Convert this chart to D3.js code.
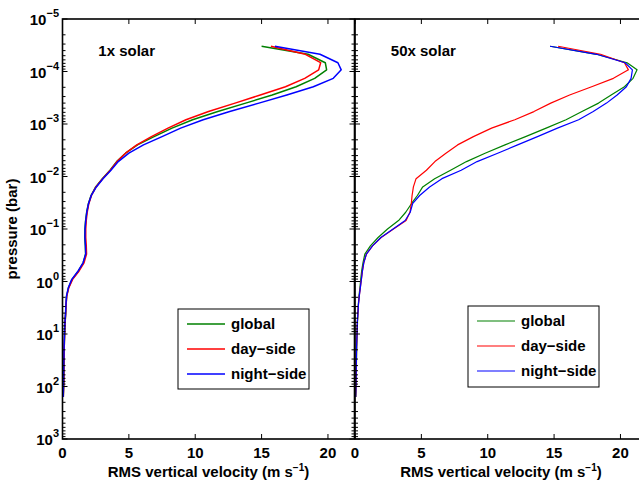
<!DOCTYPE html>
<html>
<head>
<meta charset="utf-8">
<script src="https://cdn.jsdelivr.net/npm/d3@7"></script>
<style>
  html, body { margin: 0; padding: 0; background: #fff; }
  svg { display: block; font-family: "Liberation Sans", Arial, Helvetica, sans-serif; font-weight: bold; }
</style>
</head>
<body>
<svg id="chart" width="639" height="484"></svg>
<script>
// Model pressure levels (bar), top of atmosphere downward
const pressure = [3.3e-5, 4.7e-5, 6.8e-5, 9.3e-5, 1.35e-4, 1.95e-4, 2.8e-4, 4.0e-4, 5.8e-4, 8.3e-4,
  1.2e-3, 1.74e-3, 2.5e-3, 3.6e-3, 5.2e-3, 7.6e-3, 0.011, 0.0158, 0.023, 0.033,
  0.048, 0.069, 0.1, 0.145, 0.21, 0.30, 0.44, 0.63, 0.91, 1.32,
  1.9, 2.75, 4.0, 5.75, 8.3, 12, 17.4, 25, 36, 52,
  76, 110, 158];

// RMS vertical velocity (m/s), 1x solar metallicity
const solar1Global = [15.0, 18.5, 19.8, 19.9, 19.0, 17.6, 15.8, 13.8, 11.7, 9.8,
  8.25, 6.9, 5.65, 4.75, 4.08, 3.58, 3.0, 2.5, 2.15, 1.95,
  1.82, 1.74, 1.69, 1.68, 1.72, 1.74, 1.56, 1.2, 0.72, 0.45,
  0.31, 0.27, 0.24, 0.2, 0.17, 0.15, 0.13, 0.12, 0.11, 0.1,
  0.1, 0.08, 0.06];
const solar1Day = [15.7, 18.3, 19.45, 19.3, 18.25, 16.8, 14.9, 13.0, 11.0, 9.3,
  7.95, 6.7, 5.6, 4.75, 4.1, 3.6, 3.02, 2.52, 2.18, 1.98,
  1.86, 1.79, 1.75, 1.75, 1.79, 1.81, 1.62, 1.25, 0.76, 0.47,
  0.32, 0.27, 0.24, 0.2, 0.17, 0.15, 0.13, 0.12, 0.11, 0.1,
  0.1, 0.08, 0.06];
const solar1Night = [16.0, 19.4, 20.75, 21.0, 20.4, 18.9, 16.9, 14.8, 12.6, 10.6,
  8.9, 7.5, 6.1, 5.0, 4.2, 3.65, 3.05, 2.55, 2.17, 1.96,
  1.83, 1.75, 1.7, 1.69, 1.73, 1.75, 1.55, 1.18, 0.7, 0.44,
  0.3, 0.26, 0.23, 0.19, 0.16, 0.14, 0.12, 0.11, 0.1, 0.09,
  0.08, 0.07, 0.05];

// RMS vertical velocity (m/s), 50x solar metallicity
const solar50Global = [14.7, 18.2, 20.5, 21.25, 20.95, 20.3, 19.3, 18.35, 17.1, 15.9,
  14.4, 12.85, 11.3, 9.8, 8.4, 7.2, 6.0, 5.1, 4.7, 4.25,
  3.82, 3.28, 2.45, 1.74, 1.16, 0.74, 0.6, 0.5, 0.43, 0.37,
  0.3, 0.25, 0.22, 0.19, 0.17, 0.15, 0.13, 0.12, 0.11, 0.1,
  0.09, 0.08, 0.06];
const solar50Day = [15.3, 18.5, 20.3, 20.6, 19.47, 17.83, 16.17, 14.75, 13.48, 12.04,
  10.29, 8.92, 7.73, 6.85, 6.02, 5.38, 4.6, 4.4, 4.3, 4.24,
  4.14, 3.85, 2.9, 1.97, 1.32, 0.86, 0.66, 0.56, 0.48, 0.4,
  0.32, 0.26, 0.22, 0.18, 0.16, 0.14, 0.12, 0.11, 0.1, 0.09,
  0.08, 0.07, 0.05];
const solar50Night = [14.7, 18.2, 20.35, 20.9, 20.8, 20.45, 19.75, 18.95, 17.95, 16.85,
  15.25, 13.75, 12.25, 10.75, 9.2, 8.0, 6.55, 5.62, 4.87, 4.34,
  4.16, 3.78, 2.87, 1.95, 1.32, 0.86, 0.66, 0.56, 0.48, 0.4,
  0.32, 0.26, 0.22, 0.18, 0.16, 0.14, 0.12, 0.11, 0.1, 0.09,
  0.08, 0.07, 0.05];

const seriesNames = ["global", "day\u2212side", "night\u2212side"];
const seriesColors = ["#008000", "#ff0000", "#0000ff"];
const panelTitles = ["1x solar", "50x solar"];
const xTickValues = [0, 5, 10, 15, 20];
const yTickExponents = [-5, -4, -3, -2, -1, 0, 1, 2, 3];
const xLabel = "RMS vertical velocity (m s";

const panels = [
  { title: panelTitles[0], series: [solar1Global, solar1Day, solar1Night], x0: 62.5, x1: 354.5, lw: 1.5,
    legend: { x: 178, y: 309, w: 131, h: 80 } },
  { title: panelTitles[1], series: [solar50Global, solar50Day, solar50Night], x0: 355, x1: 647, lw: 1.2,
    legend: { x: 468, y: 306, w: 131, h: 81 } }
];

const svg = d3.select("#chart");
svg.append("rect").attr("width", 639).attr("height", 484).attr("fill", "#fff");

const plotTop = 19, plotBottom = 439;
const y = d3.scaleLog().domain([1e-5, 1e3]).range([plotTop, plotBottom]);

const minorTicks = y.ticks().filter(v => Math.abs(Math.log10(v) - Math.round(Math.log10(v))) > 1e-6);
const majorTicks = yTickExponents.map(e => Math.pow(10, e));

panels.forEach((p) => {
  const x = d3.scaleLinear().domain([0, 22]).range([p.x0, p.x1]);
  const g = svg.append("g");

  // velocity profiles
  const line = d3.line().x(d => x(d[0])).y(d => y(d[1]));
  p.series.forEach((vals, si) => {
    g.append("path")
      .datum(vals.map((v, i) => [v, pressure[i]]))
      .attr("d", line)
      .attr("fill", "none")
      .attr("stroke", seriesColors[si])
      .attr("stroke-width", p.lw)
      .attr("stroke-linejoin", "round");
  });

  // tick marks on all four sides, pointing inward
  const tg = g.append("g").attr("stroke", "#000").attr("stroke-width", 1);
  xTickValues.forEach(v => {
    tg.append("line").attr("x1", x(v)).attr("x2", x(v)).attr("y1", plotBottom).attr("y2", plotBottom - 5);
    tg.append("line").attr("x1", x(v)).attr("x2", x(v)).attr("y1", plotTop).attr("y2", plotTop + 5);
  });
  majorTicks.forEach(v => {
    tg.append("line").attr("x1", p.x0).attr("x2", p.x0 + 5).attr("y1", y(v)).attr("y2", y(v));
    tg.append("line").attr("x1", p.x1).attr("x2", p.x1 - 5).attr("y1", y(v)).attr("y2", y(v));
  });
  minorTicks.forEach(v => {
    tg.append("line").attr("x1", p.x0).attr("x2", p.x0 + 3).attr("y1", y(v)).attr("y2", y(v));
    tg.append("line").attr("x1", p.x1).attr("x2", p.x1 - 3).attr("y1", y(v)).attr("y2", y(v));
  });

  // axes box
  g.append("rect").attr("x", p.x0).attr("y", plotTop).attr("width", p.x1 - p.x0).attr("height", plotBottom - plotTop)
    .attr("fill", "none").attr("stroke", "#000").attr("stroke-width", 1.6);

  // x tick labels
  g.selectAll(".xt").data(xTickValues).enter().append("text")
    .attr("x", d => x(d)).attr("y", 458)
    .attr("text-anchor", "middle").attr("font-size", 15).text(d => d);

  // x axis label with superscript exponent
  const xl = g.append("text").attr("x", (p.x0 + p.x1) / 2).attr("y", 477)
    .attr("text-anchor", "middle").attr("font-size", 15);
  xl.append("tspan").text(xLabel);
  xl.append("tspan").attr("dy", -6).attr("font-size", 10).text("\u22121");
  xl.append("tspan").attr("dy", 6).text(")");

  // panel title
  g.append("text").attr("x", x(2.7)).attr("y", 56).attr("font-size", 15).text(p.title);

  // legend
  const L = p.legend;
  const lg = g.append("g");
  lg.append("rect").attr("x", L.x).attr("y", L.y).attr("width", L.w).attr("height", L.h)
    .attr("fill", "#fff").attr("stroke", "#000").attr("stroke-width", 1);
  seriesNames.forEach((name, si) => {
    const ly = L.y + 15 + si * 25;
    lg.append("line").attr("x1", L.x + 9).attr("x2", L.x + 47).attr("y1", ly).attr("y2", ly)
      .attr("stroke", seriesColors[si]).attr("stroke-width", p.lw);
    lg.append("text").attr("x", L.x + 53).attr("y", ly + 5).attr("font-size", 15).text(name);
  });
});

// y tick labels on the left panel only
const yl = svg.append("g");
yTickExponents.forEach(e => {
  const t = yl.append("text").attr("x", 59).attr("y", y(Math.pow(10, e)) + 6)
    .attr("text-anchor", "end").attr("font-size", 15);
  t.append("tspan").text("10");
  t.append("tspan").attr("dy", -8).attr("font-size", 11).text(e < 0 ? "\u2212" + (-e) : String(e));
});

// y axis label
svg.append("text").attr("transform", "translate(17,229) rotate(-90)")
  .attr("text-anchor", "middle").attr("font-size", 15).text("pressure (bar)");
</script>
</body>
</html>
